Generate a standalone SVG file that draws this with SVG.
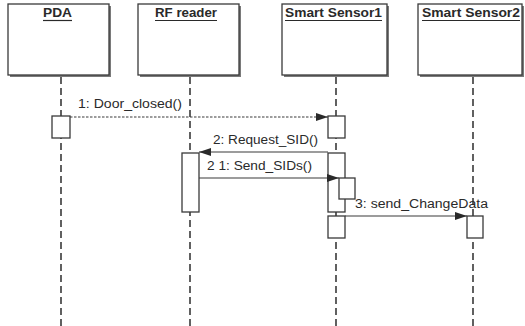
<svg xmlns="http://www.w3.org/2000/svg" width="525" height="326" viewBox="0 0 525 326">
<style>
.box{fill:#fff;stroke:#3a3a3a;stroke-width:1.3}
.shadow{fill:#7a7a7a}
.life{stroke:#3a3a3a;stroke-width:1.6;stroke-dasharray:7 4;fill:none}
.act{fill:#fff;stroke:#3a3a3a;stroke-width:1.3}
.hdr{font-family:"Liberation Sans",Arial,sans-serif;font-weight:bold;font-size:12.5px;fill:#2a2a2a}
.ul{stroke:#2a2a2a;stroke-width:1.2}
.msg{stroke:#3a3a3a;stroke-width:1.2;fill:none}
.lbl{font-family:"Liberation Sans",Arial,sans-serif;font-size:12.5px;fill:#2a2a2a}
</style>
<defs>
<marker id="ah" viewBox="0 0 12 8" refX="12" refY="4" markerWidth="12" markerHeight="8" markerUnits="userSpaceOnUse" orient="auto">
<path d="M0,0 L12,4 L0,8 Z" fill="#2a2a2a"/>
</marker>
</defs>
<rect width="525" height="326" fill="#fff"/>
<g id="lifelines">
<line class="life" x1="61" y1="77" x2="61" y2="326"/>
<line class="life" x1="190" y1="77" x2="190" y2="326"/>
<line class="life" x1="336" y1="77" x2="336" y2="326"/>
<line class="life" x1="473" y1="77" x2="473" y2="326"/>
</g>
<g id="PDA">
<rect class="shadow" x="10" y="6" width="101" height="71"/>
<rect class="box" x="8" y="4" width="101" height="71"/>
<text class="hdr" x="57.5" y="17" text-anchor="middle" textLength="29" lengthAdjust="spacingAndGlyphs">PDA</text>
<line class="ul" x1="43" y1="20.5" x2="72" y2="20.5"/>
</g>
<g id="RFreader">
<rect class="shadow" x="140" y="6" width="101" height="71"/>
<rect class="box" x="138" y="4" width="101" height="71"/>
<text class="hdr" x="186" y="17" text-anchor="middle" textLength="62" lengthAdjust="spacingAndGlyphs">RF reader</text>
<line class="ul" x1="155" y1="20.5" x2="217" y2="20.5"/>
</g>
<g id="SmartSensor1">
<rect class="shadow" x="284" y="6" width="105" height="71"/>
<rect class="box" x="282" y="4" width="105" height="71"/>
<text class="hdr" x="333.5" y="17" text-anchor="middle" textLength="97" lengthAdjust="spacingAndGlyphs">Smart Sensor1</text>
<line class="ul" x1="285" y1="20.5" x2="382" y2="20.5"/>
</g>
<g id="SmartSensor2">
<rect class="shadow" x="420" y="6" width="104" height="71"/>
<rect class="box" x="418" y="4" width="104" height="71"/>
<text class="hdr" x="471" y="17" text-anchor="middle" textLength="98" lengthAdjust="spacingAndGlyphs">Smart Sensor2</text>
<line class="ul" x1="422" y1="20.5" x2="520" y2="20.5"/>
</g>
<g id="activations">
<rect class="act" x="52" y="116" width="18" height="22"/>
<rect class="act" x="328" y="116" width="17" height="22"/>
<rect class="act" x="182" y="153" width="17" height="59"/>
<rect class="act" x="328" y="153" width="17" height="59"/>
<rect class="act" x="339" y="178" width="16" height="21"/>
<rect class="act" x="328" y="216" width="17" height="22"/>
<rect class="act" x="467" y="216" width="16" height="22"/>
</g>
<g id="connectors">
<line class="msg" x1="70" y1="117" x2="328" y2="117" stroke-dasharray="2.5 1.5" marker-end="url(#ah)"/>
<line class="msg" x1="328" y1="152" x2="199" y2="152" marker-end="url(#ah)"/>
<line class="msg" x1="199" y1="178" x2="339" y2="178" marker-end="url(#ah)"/>
<line class="msg" x1="345" y1="216" x2="467" y2="216" marker-end="url(#ah)"/>
</g>
<g id="labels">
<text class="lbl" x="78" y="108" textLength="104" lengthAdjust="spacingAndGlyphs">1: Door_closed()</text>
<text class="lbl" x="213" y="144" textLength="105" lengthAdjust="spacingAndGlyphs">2: Request_SID()</text>
<text class="lbl" x="207" y="170" textLength="105" lengthAdjust="spacingAndGlyphs">2 1: Send_SIDs()</text>
<text class="lbl" x="355" y="208" textLength="133" lengthAdjust="spacingAndGlyphs">3: send_ChangeData</text>
</g>
</svg>
